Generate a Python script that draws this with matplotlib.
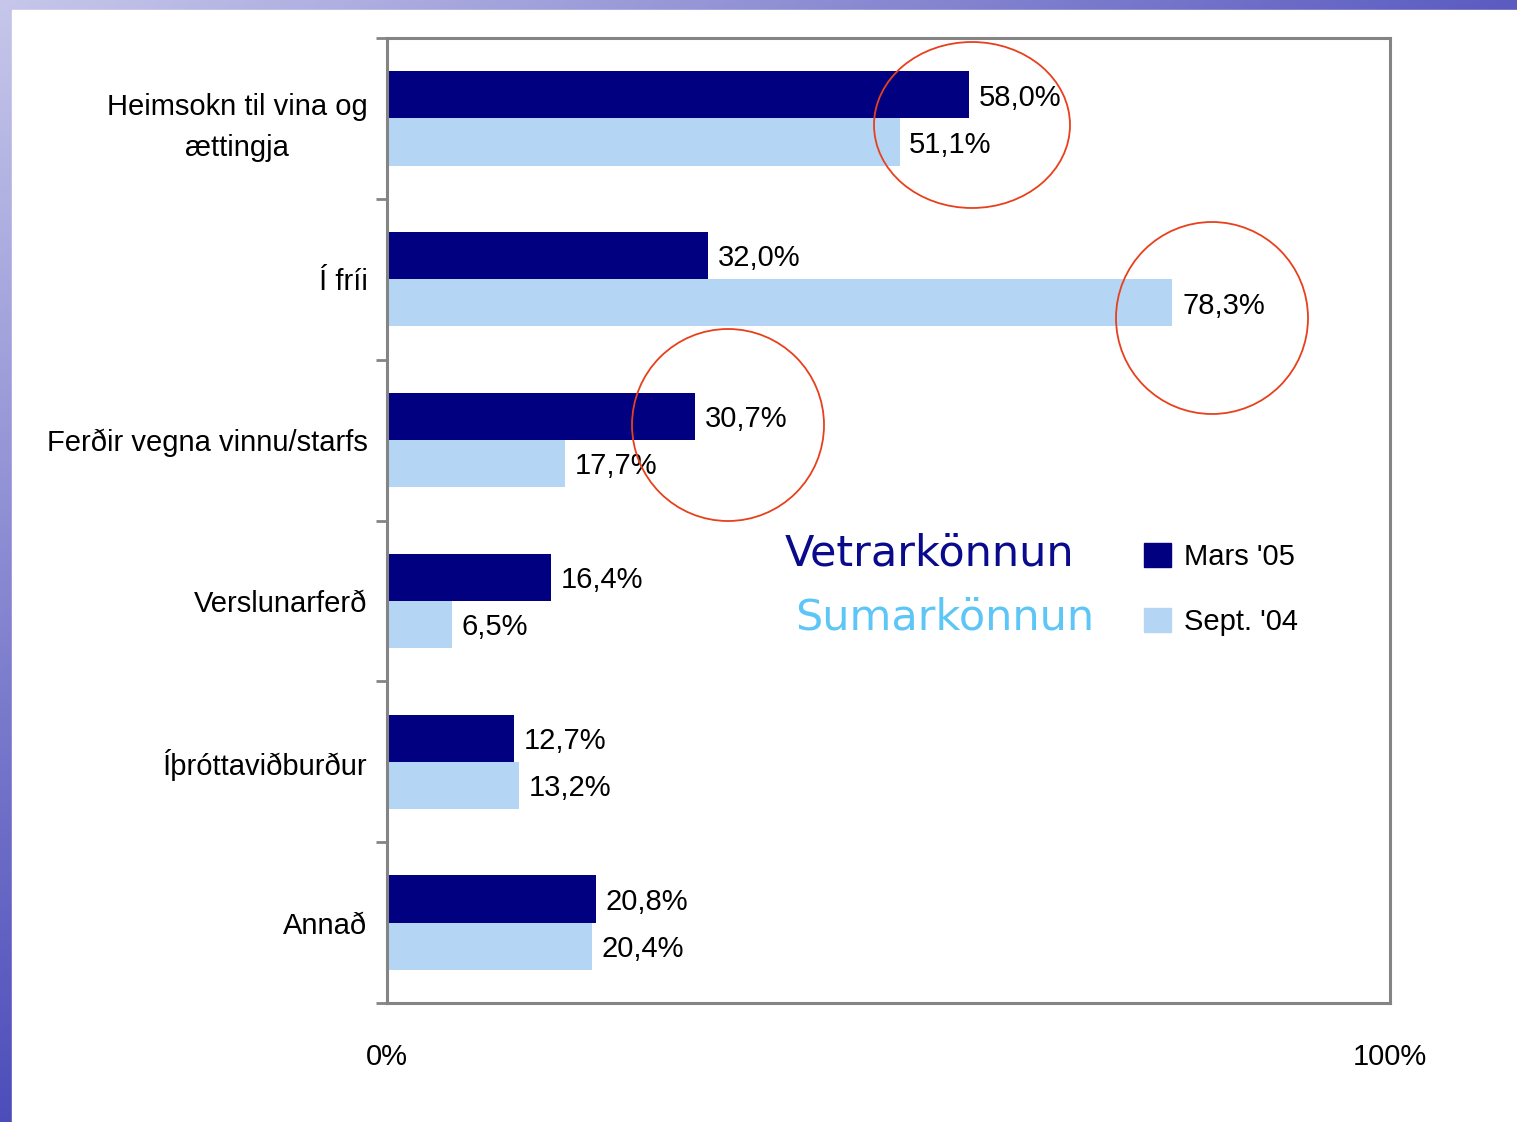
import numpy as np
import matplotlib
matplotlib.use("Agg")
import matplotlib.pyplot as plt
from matplotlib.patches import Ellipse, Rectangle, Patch

# data
categories = [
    "Heimsokn til vina og\nættingja",
    "Í fríi",
    "Ferðir vegna vinnu/starfs",
    "Verslunarferð",
    "Íþróttaviðburður",
    "Annað",
]
mars_05 = [58.0, 32.0, 30.7, 16.4, 12.7, 20.8]
sept_04 = [51.1, 78.3, 17.7, 6.5, 13.2, 20.4]
series_names = ["Mars '05", "Sept. '04"]
x_ticks = [0, 100]
x_tick_labels = ["0%", "100%"]

DARK = "#000080"
LIGHT = "#b4d5f3"
GRID = "#848484"
NARROW = ["Liberation Sans Narrow", "Liberation Sans", "DejaVu Sans"]

W, H = 1517, 1122
fig = plt.figure(figsize=(W / 100, H / 100), dpi=100)

# slide background: blue gradient strips on top and left
bg = fig.add_axes([0, 0, 1, 1], zorder=-10)
gx = np.linspace(0, 1, 300)
gy = np.linspace(0, 1, 300)[:, None]
t = np.clip(0.75 * gx + 0.85 * gy, 0, 1)
c0 = np.array([0.78, 0.78, 0.92])
c1 = np.array([0.22, 0.22, 0.70])
img = c0 + (c1 - c0) * t[..., None]
bg.imshow(img, extent=[0, 1, 0, 1], aspect="auto", origin="upper")
bg.add_patch(Rectangle((12 / W, 0), 1, 1 - 10 / H, color="white"))
bg.set_xlim(0, 1)
bg.set_ylim(0, 1)
bg.axis("off")

ax = fig.add_axes([387 / W, 119 / H, 1003 / W, 965 / H])
y = np.arange(len(categories))
bh = 0.293
b1 = ax.barh(y - bh / 2, mars_05, height=bh, color=DARK, label=series_names[0])
b2 = ax.barh(y + bh / 2, sept_04, height=bh, color=LIGHT, label=series_names[1])

for bars, vals in ((b1, mars_05), (b2, sept_04)):
    for rect, v in zip(bars, vals):
        ax.annotate(f"{v:.1f}%".replace(".", ","),
                    (rect.get_width(), rect.get_y() + rect.get_height() / 2),
                    xytext=(7, -2), textcoords="offset points",
                    va="center", ha="left", fontsize=21, family=NARROW)

ax.set_xlim(0, 100)
ax.set_ylim(len(categories) - 0.5, -0.5)
ax.set_xticks(x_ticks)
ax.set_xticklabels(x_tick_labels, family=NARROW, fontsize=21)
ax.tick_params(axis="x", length=0, pad=29)
ax.set_yticks(y)
ax.set_yticklabels(categories, family=NARROW, fontsize=21,
                   multialignment="center", linespacing=1.55)
ax.tick_params(axis="y", which="major", length=0, pad=14)
ax.set_yticks(np.arange(len(categories) + 1) - 0.5, minor=True)
ax.tick_params(axis="y", which="minor", length=8, width=2, color=GRID)
for s in ax.spines.values():
    s.set_color(GRID)
    s.set_linewidth(2.2)

# survey titles
fig.text(785 / W, 1 - 553 / H, "Vetrarkönnun", color="#0a0a8c", fontsize=31,
         family="DejaVu Sans", va="center", ha="left")
fig.text(795 / W, 1 - 617 / H, "Sumarkönnun", color="#5ec6f7", fontsize=31,
         family="DejaVu Sans", va="center", ha="left")

handles = [Patch(color=DARK), Patch(color=LIGHT)]
fig.legend(handles, series_names, loc="upper left",
           bbox_to_anchor=(1118 / W, 1 - 517 / H), frameon=False,
           prop={"family": NARROW, "size": 21}, handlelength=0.9,
           handleheight=0.9, handletextpad=0.45, labelspacing=1.25)

# red highlight circles
for cx, cy, w, h in ((972, 125, 196, 166), (1212, 318, 192, 192), (728, 425, 192, 192)):
    fig.patches.append(Ellipse((cx / W, 1 - cy / H), w / W, h / H,
                               transform=fig.transFigure, fill=False,
                               edgecolor="#e8401c", linewidth=1.3, zorder=5))

fig.savefig("out.png", dpi=100)
